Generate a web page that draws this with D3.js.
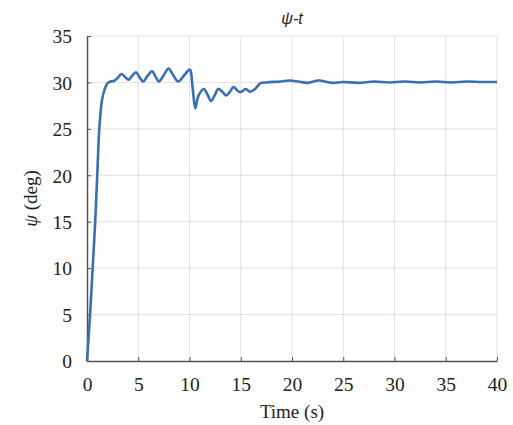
<!DOCTYPE html>
<html>
<head>
<meta charset="utf-8">
<script src="https://cdn.jsdelivr.net/npm/d3@7"></script>
<style>
  body { margin: 0; background: #fff; }
  svg { display: block; }
</style>
</head>
<body>
<div id="chart"></div>
<script>
// heading angle psi vs time
const timeS = [0, 0.3, 0.55, 0.8, 1.0, 1.2, 1.45, 1.7, 2.0, 2.3, 2.7, 3.0, 3.36, 3.7, 4.06, 4.4,
  4.78, 5.1, 5.5, 5.9, 6.34, 6.7, 7.0, 7.5, 7.96, 8.4, 8.9, 9.5, 10.0, 10.1, 10.3, 10.57, 10.85,
  11.4, 11.75, 12.1, 12.45, 12.8, 13.2, 13.6, 13.95, 14.3, 14.6, 14.9, 15.2, 15.5, 15.9, 16.4,
  16.9, 17.5, 18.9, 19.8, 20.6, 21.5, 22.6, 23.9, 25.0, 26.5, 28, 29.5, 31, 32.5, 34, 35.5, 37,
  38.5, 40]
const psiDeg = [0, 5, 10, 15, 20, 25, 28, 29.2, 29.9, 30.1, 30.2, 30.5, 30.9, 30.6, 30.3, 30.7,
  31.1, 30.6, 30.1, 30.7, 31.2, 30.6, 30.1, 30.8, 31.5, 30.8, 30.1, 30.8, 31.4, 31.3, 29.5, 27.2,
  28.5, 29.3, 28.7, 28.0, 28.6, 29.3, 29.0, 28.6, 29.0, 29.5, 29.2, 28.95, 29.1, 29.3, 29.0, 29.3,
  29.9, 30.0, 30.1, 30.2, 30.1, 29.95, 30.2, 29.95, 30.05, 29.95, 30.1, 30.0, 30.1, 30.0, 30.1,
  30.0, 30.1, 30.05, 30.05]

const xTicks = [0, 5, 10, 15, 20, 25, 30, 35, 40]
const yTicks = [0, 5, 10, 15, 20, 25, 30, 35]

const width = 513
const height = 425
const margin = { top: 36, right: 16, bottom: 64, left: 87 }

const svg = d3.select('#chart').append('svg')
  .attr('width', width)
  .attr('height', height)

const x = d3.scaleLinear().domain([0, 40]).range([margin.left, width - margin.right])
const y = d3.scaleLinear().domain([0, 35]).range([height - margin.bottom, margin.top])

const axisColor = '#5e4f4b'
const gridColor = '#e6e1e1'
const font = '"Liberation Serif", "Times New Roman", serif'

// grid
svg.append('g')
  .selectAll('line')
  .data(xTicks.slice(1))
  .join('line')
  .attr('x1', d => x(d)).attr('x2', d => x(d))
  .attr('y1', y(0)).attr('y2', y(35))
  .attr('stroke', gridColor)
svg.append('g')
  .selectAll('line')
  .data(yTicks.slice(1))
  .join('line')
  .attr('x1', x(0)).attr('x2', x(40))
  .attr('y1', d => y(d)).attr('y2', d => y(d))
  .attr('stroke', gridColor)

// axes, ticks pointing inside
const xAxis = svg.append('g')
  .attr('transform', `translate(0,${y(0)})`)
  .call(d3.axisBottom(x).tickValues(xTicks).tickSizeInner(-4).tickSizeOuter(0).tickPadding(12))
const yAxis = svg.append('g')
  .attr('transform', `translate(${x(0)},0)`)
  .call(d3.axisLeft(y).tickValues(yTicks).tickSizeInner(-4).tickSizeOuter(0).tickPadding(15))

for (const ax of [xAxis, yAxis]) {
  ax.select('.domain').attr('stroke', axisColor).attr('stroke-width', 1.5)
  ax.selectAll('.tick line').attr('stroke', axisColor)
  ax.selectAll('.tick text')
    .attr('fill', '#222')
    .style('font-family', font)
    .style('font-size', '19.5px')
}
xAxis.selectAll('.tick text').attr('dy', '0.9em')
yAxis.selectAll('.tick text').attr('dy', '0.35em')

const line = d3.line()
  .x(d => x(d[0]))
  .y(d => y(d[1]))
  .curve(d3.curveCatmullRom.alpha(0.5))

svg.append('path')
  .datum(d3.zip(timeS, psiDeg))
  .attr('fill', 'none')
  .attr('stroke', '#3a6fb0')
  .attr('stroke-width', 2.6)
  .attr('stroke-linejoin', 'round')
  .attr('d', line)

// title
svg.append('text')
  .attr('x', (x(0) + x(40)) / 2)
  .attr('y', 24)
  .attr('text-anchor', 'middle')
  .style('font-family', '"Liberation Sans", Arial, sans-serif')
  .style('font-style', 'italic')
  .style('font-size', '16px')
  .attr('fill', '#222')
  .text('ψ-t')

svg.append('text')
  .attr('x', (x(0) + x(40)) / 2)
  .attr('y', 418)
  .attr('text-anchor', 'middle')
  .style('font-family', font)
  .style('font-size', '19px')
  .attr('fill', '#222')
  .text('Time (s)')

const yLabel = svg.append('text')
  .attr('transform', `translate(37,${(y(0) + y(35)) / 2}) rotate(-90)`)
  .attr('text-anchor', 'middle')
  .style('font-family', font)
  .style('font-size', '19px')
  .attr('fill', '#222')
yLabel.append('tspan').style('font-style', 'italic').text('ψ')
yLabel.append('tspan').text(' (deg)')
</script>
</body>
</html>
